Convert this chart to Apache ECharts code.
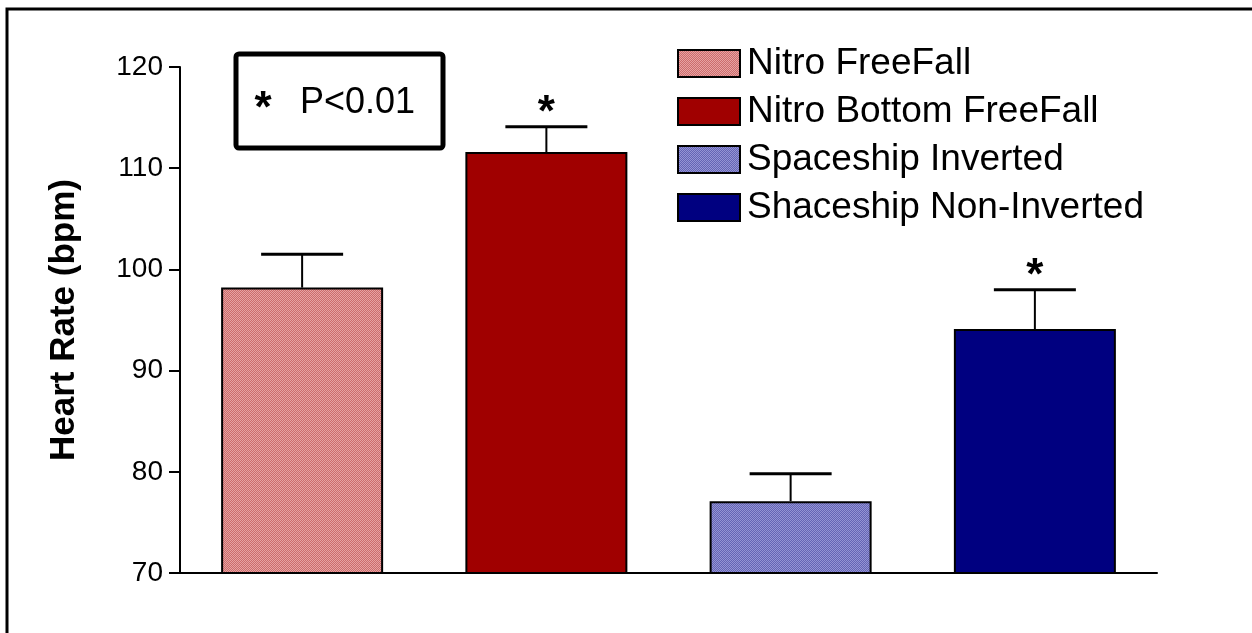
<!DOCTYPE html>
<html><head><meta charset="utf-8">
<script src="https://cdn.jsdelivr.net/npm/echarts@6/dist/echarts.min.js"></script>
<style>html,body{margin:0;padding:0;background:#fff}#c{width:1252px;height:633px}</style>
</head><body><div id="c"></div>
<script>
const categories = ['Nitro FreeFall', 'Nitro Bottom FreeFall', 'Spaceship Inverted', 'Shaceship Non-Inverted'];
const means = [98.2, 111.6, 77.1, 94.1];
const errTop = [101.5, 114.1, 79.8, 98.0];
const sig = ['', '*', '', '*'];
const yTicks = [70, 80, 90, 100, 110, 120];

function pat(c1, c2) {
  const cv = document.createElement('canvas');
  cv.width = 2; cv.height = 2;
  const g = cv.getContext('2d');
  g.fillStyle = c1; g.fillRect(0, 0, 2, 2);
  g.fillStyle = c2; g.fillRect(0, 0, 1, 1); g.fillRect(1, 1, 1, 1);
  return { image: cv, repeat: 'repeat' };
}
const colors = [pat('#cc6c6c', '#e6a3a3'), '#a00000', pat('#6464b4', '#9494d4'), '#000080'];
const FONT = 'Liberation Sans, Arial, sans-serif';

const chart = echarts.init(document.getElementById('c'), null, { renderer: 'canvas' });
const barSeries = categories.map((name, i) => ({
  type: 'bar', name,
  data: means.map((v, j) => (j === i ? v : '-')),
  barGap: '-100%', barWidth: 162,
  itemStyle: { color: colors[i], borderColor: '#000', borderWidth: 2 },
  emphasis: { disabled: true },
  z: 2
}));

chart.setOption({
  animation: false,
  grid: { left: 180, right: 95, top: 67, bottom: 60 },
  legend: {
    data: categories, orient: 'vertical', left: 677, top: 45, padding: 0,
    itemWidth: 62, itemHeight: 27, itemGap: 11, icon: 'rect',
    textStyle: { fontFamily: FONT, fontSize: 37, color: '#000', padding: [2, 0, 0, 2] },
    selectedMode: false
  },
  xAxis: {
    type: 'category', data: categories,
    axisLine: { lineStyle: { color: '#000', width: 2 } },
    axisTick: { show: false }, axisLabel: { show: false }
  },
  yAxis: {
    type: 'value', min: yTicks[0], max: yTicks[yTicks.length - 1], interval: 10,
    axisLine: { show: true, lineStyle: { color: '#000', width: 2 } },
    axisTick: { show: true, length: 11, lineStyle: { color: '#000', width: 2 } },
    axisLabel: { fontFamily: FONT, fontSize: 28, color: '#000', margin: 17 },
    splitLine: { show: false },
    name: 'Heart Rate (bpm)', nameLocation: 'middle', nameGap: 98,
    nameTextStyle: { fontFamily: FONT, fontSize: 35, fontWeight: 'bold', color: '#000' }
  },
  graphic: [
    { type: 'rect', shape: { x: 7, y: 9, width: 1400, height: 800 }, style: { fill: 'none', stroke: '#000', lineWidth: 3 }, silent: true },
    { type: 'rect', shape: { x: 236, y: 54, width: 207, height: 94, r: 3 }, style: { fill: '#fff', stroke: '#000', lineWidth: 5 }, z: 10 },
    { type: 'text', x: 263, y: 110, z: 11, style: { text: '*', font: 'bold 44px ' + FONT, fill: '#000', align: 'center', verticalAlign: 'middle' } },
    { type: 'text', x: 300, y: 103, z: 11, style: { text: 'P<0.01', font: '36px ' + FONT, fill: '#000', align: 'left', verticalAlign: 'middle' } }
  ],
  series: barSeries.concat([{
    type: 'custom', name: 'err', z: 5, silent: true,
    data: means.map((m, i) => [i, m, errTop[i]]),
    renderItem: (params, api) => {
      const i = api.value(0);
      const p0 = api.coord([i, api.value(1)]);
      const p1 = api.coord([i, api.value(2)]);
      const hw = 41;
      const children = [
        { type: 'line', shape: { x1: p0[0], y1: p0[1], x2: p1[0], y2: p1[1] }, style: { stroke: '#000', lineWidth: 2 } },
        { type: 'line', shape: { x1: p1[0] - hw, y1: p1[1], x2: p1[0] + hw, y2: p1[1] }, style: { stroke: '#000', lineWidth: 3 } }
      ];
      if (sig[i]) {
        children.push({ type: 'text', x: p1[0], y: p1[1] + 9, style: { text: sig[i], font: 'bold 44px ' + FONT, fill: '#000', align: 'center', verticalAlign: 'bottom' } });
      }
      return { type: 'group', children };
    }
  }])
});
</script></body></html>
